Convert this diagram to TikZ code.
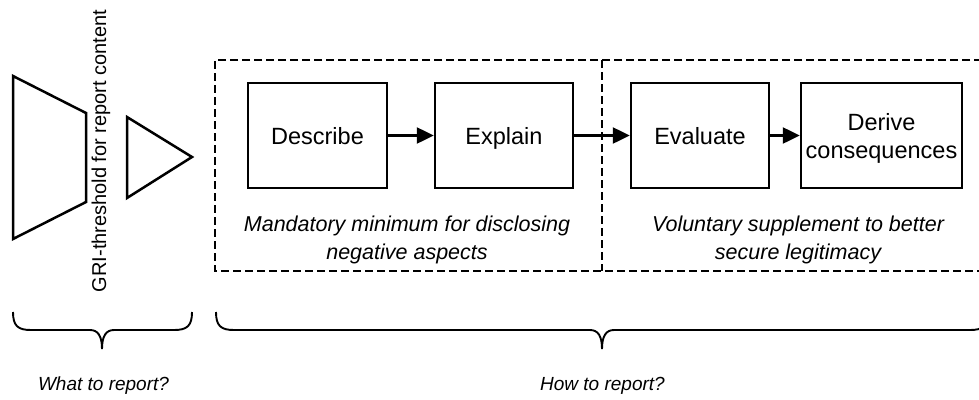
\documentclass[tikz,border=0pt]{standalone}
\usepackage{fontspec}
\setmainfont{Liberation Sans}
\usetikzlibrary{arrows.meta}

\begin{document}
\begin{tikzpicture}[x=1pt, y=-1pt,
    stepbox/.style={shape=rectangle, draw=black, line width=2.5pt, inner sep=0pt, text depth=0pt,
      minimum height=105pt, align=center, font=\fontsize{23.5}{28}\selectfont},
    flow/.style={line width=2.5pt, -{Triangle[length=17pt,width=16pt]}},
    note/.style={align=center, font=\fontsize{21.5}{28}\selectfont\itshape},
    framing/.style={line width=2.2pt, dash pattern=on 8pt off 4pt},
    curly/.style={line width=1.9pt}]
     \useasboundingbox (0,0) rectangle (979,399);
     \clip (0,0) rectangle (979,399);

     % what to report
     \draw[line width=2.5pt] (13,76) -- (86,113) -- (86,202) -- (13,239) -- cycle;
     \draw[line width=2.5pt] (127,117) -- (192,157) -- (127,198) -- cycle;
     \node[rotate=90, font=\fontsize{20}{24}\selectfont] (gri) at (101,151) {GRI-threshold for report content};

     % how to report
     \draw[framing] (982,60) -- (215,60) -- (215,271) -- (982,271);
     \draw[framing] (602,60) -- (602,271);

     \node[stepbox, minimum width=139pt] (describe) at (317.5,135.5) {Describe};
     \node[stepbox, minimum width=138pt] (explain)  at (504,135.5)   {Explain};
     \node[stepbox, minimum width=138pt] (evaluate) at (700,135.5)   {Evaluate};
     \node[stepbox, minimum width=161pt] (derive)   at (881.5,135.5) {Derive\\consequences};

     \path (describe) edge[flow] (explain);
     \path (explain)  edge[flow] (evaluate);
     \path (evaluate) edge[flow] (derive);

     \node[note] (mandatory) at (407,240) {Mandatory minimum for disclosing\\negative aspects};
     \node[note] (voluntary) at (798,240) {Voluntary supplement to better\\secure legitimacy};

     % braces
     \draw[curly] (13,312) .. controls (13,326) and (18,330) .. (31,330) -- (90,330)
       .. controls (98,330) and (102,336) .. (102,349)
       .. controls (102,336) and (106,330) .. (114,330) -- (174,330)
       .. controls (187,330) and (192,326) .. (192,312);
     \draw[curly] (216,312) .. controls (216,326) and (221,330) .. (234,330) -- (590,330)
       .. controls (598,330) and (602,336) .. (602,349)
       .. controls (602,336) and (606,330) .. (614,330) -- (970,330)
       .. controls (983,330) and (988,326) .. (988,312);

     \node[font=\fontsize{19}{23}\selectfont\itshape] (what) at (103.5,386) {What to report?};
     \node[font=\fontsize{19}{23}\selectfont\itshape] (how)  at (602.5,386) {How to report?};
\end{tikzpicture}
\end{document}
